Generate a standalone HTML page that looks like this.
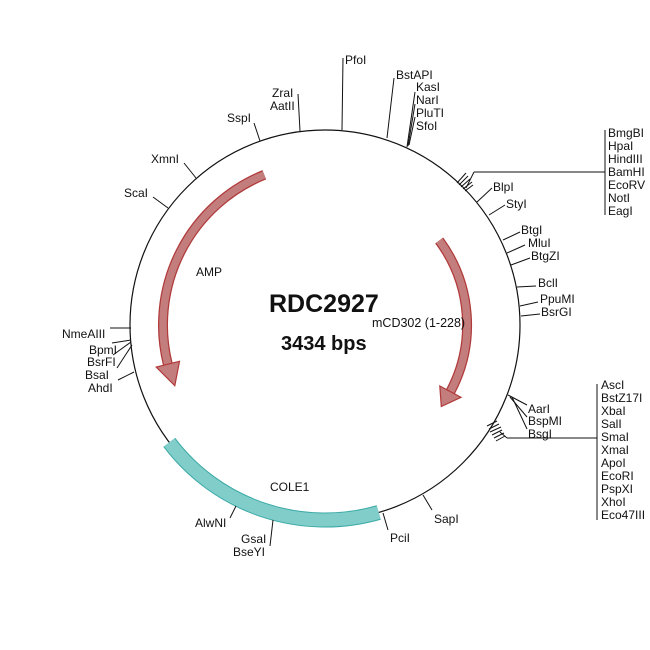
<!DOCTYPE html>
<html><head><meta charset="utf-8"><style>
html,body{margin:0;padding:0;background:#fff;}
svg{display:block;}
text{font-family:"Liberation Sans",Arial,sans-serif;font-size:12px;fill:#111;}
</style></head><body>
<svg width="650" height="650" viewBox="0 0 650 650" xmlns="http://www.w3.org/2000/svg">
<circle cx="325" cy="325" r="195" fill="none" stroke="#111" stroke-width="1.2"/>
<!-- COLE1 band -->
<path d="M378.7,512.5 A195,195 0 0 1 169.3,442.4" fill="none" stroke="#3aa9a6" stroke-width="15"/>
<path d="M378.7,512.5 A195,195 0 0 1 169.3,442.4" fill="none" stroke="#80cdca" stroke-width="13"/>
<!-- AMP arrow -->
<path d="M264.3,174.8 A162,162 0 0 0 167.8,364.2" fill="none" stroke="#b03a3a" stroke-width="10"/>
<path d="M264.3,174.8 A162,162 0 0 0 167.8,364.2" fill="none" stroke="#c47d7d" stroke-width="7.5"/>
<polygon points="179.5,361.3 156.2,367.1 174.8,385.7" fill="#c47d7d" stroke="#b03a3a" stroke-width="1.2"/>
<!-- mCD302 arrow -->
<path d="M439.2,240.5 A142,142 0 0 1 450.4,391.7" fill="none" stroke="#b03a3a" stroke-width="10"/>
<path d="M439.2,240.5 A142,142 0 0 1 450.4,391.7" fill="none" stroke="#c47d7d" stroke-width="7.5"/>
<polygon points="439.8,386.0 461.0,397.3 441.3,406.5" fill="#c47d7d" stroke="#b03a3a" stroke-width="1.2"/>

<g stroke="#111" stroke-width="1" fill="none">
<!-- top -->
<line x1="342" y1="130" x2="343" y2="58"/>
<line x1="300" y1="131" x2="298" y2="94"/>
<line x1="260" y1="141" x2="254" y2="123"/>
<line x1="196" y1="178" x2="184" y2="163"/>
<line x1="168" y1="208" x2="153" y2="197"/>
<polyline points="387,138 394,78"/>
<polyline points="407,147 415,92"/>
<polyline points="408,146 415,104"/>
<polyline points="409,145 415,117"/>
<!-- upper right cluster -->
<line x1="457" y1="183" x2="466" y2="173"/>
<line x1="459" y1="185" x2="468" y2="176"/>
<line x1="461" y1="187" x2="470" y2="179"/>
<line x1="463" y1="189" x2="472" y2="182"/>
<line x1="465" y1="191" x2="473" y2="185"/>
<line x1="466" y1="188" x2="474" y2="172"/>
<line x1="474" y1="172" x2="605" y2="172"/>
<line x1="605" y1="130" x2="605" y2="215"/>
<line x1="477" y1="202" x2="492" y2="188"/>
<line x1="489" y1="215" x2="505" y2="205"/>
<line x1="503" y1="240" x2="520" y2="232"/>
<line x1="507" y1="253" x2="525" y2="245"/>
<line x1="511" y1="265" x2="530" y2="258"/>
<line x1="517" y1="287" x2="536" y2="286"/>
<line x1="520" y1="306" x2="538" y2="302"/>
<line x1="521" y1="316" x2="540" y2="314"/>
<!-- lower right -->
<line x1="508" y1="395" x2="527" y2="405"/>
<line x1="510" y1="397" x2="527" y2="417"/>
<line x1="512" y1="397" x2="527" y2="429"/>
<line x1="487" y1="426" x2="497" y2="421"/>
<line x1="489" y1="429" x2="499" y2="424"/>
<line x1="490" y1="432" x2="501" y2="427"/>
<line x1="492" y1="435" x2="502" y2="430"/>
<line x1="494" y1="438" x2="504" y2="433"/>
<line x1="496" y1="441" x2="505" y2="436"/>
<line x1="500" y1="432" x2="507" y2="438"/>
<line x1="507" y1="438" x2="597" y2="438"/>
<line x1="597" y1="384" x2="597" y2="520"/>
<line x1="423" y1="495" x2="432" y2="510"/>
<line x1="383" y1="513" x2="388" y2="530"/>
<line x1="273" y1="520" x2="270" y2="546"/>
<line x1="236" y1="506" x2="230" y2="518"/>
<!-- left -->
<line x1="110" y1="328" x2="131" y2="328"/>
<line x1="112" y1="343" x2="131" y2="340"/>
<line x1="113" y1="355" x2="131" y2="342"/>
<line x1="117" y1="368" x2="132" y2="345"/>
<line x1="118" y1="380" x2="134" y2="372"/>
</g>

<g>
<text x="345" y="64">PfoI</text>
<text x="396" y="79">BstAPI</text>
<text x="416" y="91">KasI</text>
<text x="416" y="104">NarI</text>
<text x="416" y="117">PluTI</text>
<text x="416" y="130">SfoI</text>
<text x="272" y="97">ZraI</text>
<text x="270" y="110">AatII</text>
<text x="227" y="122">SspI</text>
<text x="151" y="163">XmnI</text>
<text x="124" y="197">ScaI</text>
<text x="608" y="137">BmgBI</text>
<text x="608" y="150">HpaI</text>
<text x="608" y="163">HindIII</text>
<text x="608" y="176">BamHI</text>
<text x="608" y="189">EcoRV</text>
<text x="608" y="202">NotI</text>
<text x="608" y="215">EagI</text>
<text x="493" y="191">BlpI</text>
<text x="506" y="208">StyI</text>
<text x="521" y="234">BtgI</text>
<text x="528" y="247">MluI</text>
<text x="531" y="260">BtgZI</text>
<text x="538" y="287">BclI</text>
<text x="540" y="303">PpuMI</text>
<text x="541" y="316">BsrGI</text>
<text x="528" y="413">AarI</text>
<text x="528" y="425">BspMI</text>
<text x="528" y="438">BsgI</text>
<text x="601" y="389">AscI</text>
<text x="601" y="402">BstZ17I</text>
<text x="601" y="415">XbaI</text>
<text x="601" y="428">SalI</text>
<text x="601" y="441">SmaI</text>
<text x="601" y="454">XmaI</text>
<text x="601" y="467">ApoI</text>
<text x="601" y="480">EcoRI</text>
<text x="601" y="493">PspXI</text>
<text x="601" y="506">XhoI</text>
<text x="601" y="519">Eco47III</text>
<text x="434" y="523">SapI</text>
<text x="390" y="542">PciI</text>
<text x="241" y="543">GsaI</text>
<text x="233" y="556">BseYI</text>
<text x="195" y="527">AlwNI</text>
<text x="62" y="338">NmeAIII</text>
<text x="89" y="354">BpmI</text>
<text x="87" y="366">BsrFI</text>
<text x="85" y="379">BsaI</text>
<text x="88" y="392">AhdI</text>
<text x="196" y="276">AMP</text>
<text x="270" y="491">COLE1</text>
<text x="372" y="327" style="font-size:12.5px">mCD302 (1-228)</text>
<text x="269" y="312" style="font-size:25px;font-weight:bold">RDC2927</text>
<text x="281" y="350" style="font-size:20px;font-weight:bold">3434 bps</text>
</g>
</svg>
</body></html>
